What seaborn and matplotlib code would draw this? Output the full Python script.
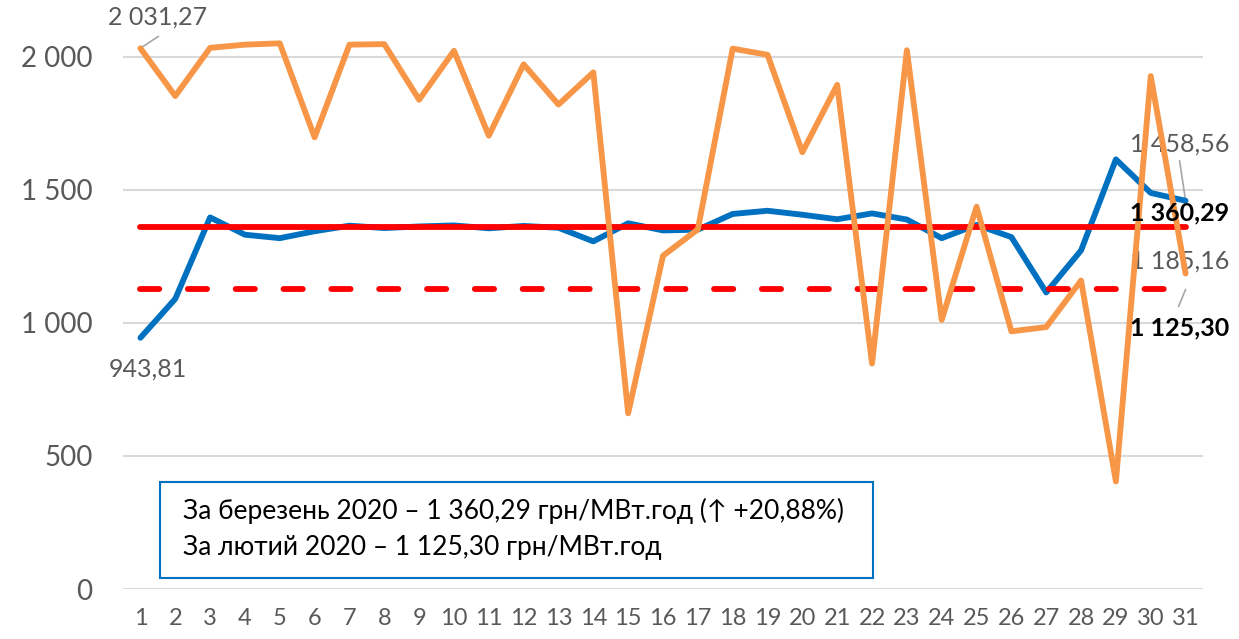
import numpy as np
import pandas as pd
import matplotlib
matplotlib.use("Agg")
import matplotlib.pyplot as plt
from matplotlib.patches import Rectangle
import seaborn as sns

# ---- data ----
days = list(range(1, 32))
march_avg_price = [943.81, 1090, 1396, 1331, 1318, 1344, 1365, 1356, 1362, 1366,
                   1355, 1364, 1357, 1306, 1374, 1347, 1350, 1409, 1421, 1406,
                   1389, 1411, 1388, 1318, 1368, 1322, 1114, 1272, 1614, 1488, 1458.56]
march_daily_price = [2031.27, 1852, 2033, 2045, 2050, 1697, 2045, 2047, 1838, 2022,
                     1703, 1971, 1820, 1941, 660, 1252, 1351, 2030, 2007, 1641,
                     1894, 847, 2024, 1011, 1436, 968, 984, 1159, 404, 1927, 1185.16]
avg_march = 1360.29
avg_feb = 1125.30
y_ticks = [0, 500, 1000, 1500, 2000]
y_tick_labels = ["0", "500", "1 000", "1 500", "2 000"]
box_lines = ["За березень 2020 – 1 360,29 грн/МВт.год (↑ +20,88%)",
             "За лютий 2020 – 1 125,30 грн/МВт.год"]

def fmt(v):
    s = f"{v:,.2f}"
    return s.replace(",", " ").replace(".", ",")

sns.set_theme(style="white")
plt.rcParams['font.family'] = ['Lato', 'DejaVu Sans']

W, H = 1239, 639
fig = plt.figure(figsize=(W / 100, H / 100), dpi=100)
ax = fig.add_axes([123 / W, 1 - 589 / H, (1203 - 123) / W, (589 - 38) / H])

df_blue = pd.DataFrame({"day": days, "value": march_avg_price})
df_orange = pd.DataFrame({"day": days, "value": march_daily_price})
df_avg_m = pd.DataFrame({"day": days, "value": [avg_march] * len(days)})
df_avg_f = pd.DataFrame({"day": days, "value": [avg_feb] * len(days)})

LW = 4.2

# gridlines
for t in y_ticks:
    ax.axhline(t, color="#D9D9D9", lw=1.5, zorder=0)

sns.lineplot(data=df_blue, x="day", y="value", color="#0070C0", lw=LW, ax=ax,
             solid_capstyle="round", solid_joinstyle="round", zorder=3)
sns.lineplot(data=df_avg_f, x="day", y="value", color="#FF0000", lw=LW, ax=ax,
             dashes=False, zorder=4)
ax.lines[-1].set_dashes([3.3, 4.9])
ax.lines[-1].set_dash_capstyle("round")
sns.lineplot(data=df_avg_m, x="day", y="value", color="#FF0000", lw=LW, ax=ax,
             solid_capstyle="round", zorder=4)
sns.lineplot(data=df_orange, x="day", y="value", color="#F79646", lw=LW, ax=ax,
             solid_capstyle="round", solid_joinstyle="round", zorder=5)

ax.set_xlim(0.5, 31.5)
ax.set_ylim(0, 2070)
ax.set_xticks(days)
ax.set_xticklabels([str(d) for d in days])
ax.set_yticks(y_ticks)
ax.set_yticklabels(y_tick_labels)
ax.set_xlabel("")
ax.set_ylabel("")
for s in ax.spines.values():
    s.set_visible(False)
ax.tick_params(axis="y", length=0, pad=22, labelsize=20, labelcolor="#595959")
ax.tick_params(axis="x", length=0, pad=14, labelsize=17, labelcolor="#595959")

# data labels
gray = "#595959"
FS = 18
lead = dict(arrowstyle="-", color="#A6A6A6", lw=1.2, shrinkA=0, shrinkB=0)
ax.annotate(fmt(march_daily_price[0]), xy=(days[0], march_daily_price[0]),
            xytext=(17, 31), textcoords="offset pixels", ha="center", va="center",
            fontsize=FS, color=gray, zorder=2)
ax.annotate("", xy=(days[0], march_daily_price[0]), xytext=(18, 12),
            textcoords="offset pixels", arrowprops=lead, zorder=2)
ax.annotate(fmt(march_avg_price[0]), xy=(days[0], march_avg_price[0]),
            xytext=(7, -31), textcoords="offset pixels", ha="center", va="center",
            fontsize=FS, color=gray, zorder=2)
ax.annotate(fmt(march_avg_price[-1]), xy=(days[-1], march_avg_price[-1]),
            xytext=(-6, 57), textcoords="offset pixels", ha="center", va="center",
            fontsize=FS, color=gray, zorder=2)
ax.annotate("", xy=(days[-1], march_avg_price[-1]), xytext=(-6, 40),
            textcoords="offset pixels", arrowprops=lead, zorder=2)
ax.annotate(fmt(avg_march), xy=(days[-1], avg_march),
            xytext=(-6, 14), textcoords="offset pixels", ha="center", va="center",
            fontsize=FS, color="black", fontweight="bold", zorder=6)
ax.annotate(fmt(march_daily_price[-1]), xy=(days[-1], march_daily_price[-1]),
            xytext=(-6, 12), textcoords="offset pixels", ha="center", va="center",
            fontsize=FS, color=gray, zorder=2)
ax.annotate(fmt(avg_feb), xy=(days[-1], avg_feb),
            xytext=(-6, -38), textcoords="offset pixels", ha="center", va="center",
            fontsize=FS, color="black", fontweight="bold", zorder=6)
ax.annotate("", xy=(days[-1], avg_feb), xytext=(-7, -17),
            textcoords="offset pixels", arrowprops=lead, zorder=2)

# text box
fig.patches.append(Rectangle((160 / W, 1 - 578 / H), 713 / W, 96 / H,
                             transform=fig.transFigure, facecolor="white",
                             edgecolor="#0070C0", lw=1.5, zorder=10))
fig.text(183 / W, 1 - 511 / H, box_lines[0], fontsize=19, color="black",
         va="center", ha="left", zorder=11)
fig.text(183 / W, 1 - 548 / H, box_lines[1], fontsize=19, color="black",
         va="center", ha="left", zorder=11)

fig.savefig("out.png", dpi=100)
